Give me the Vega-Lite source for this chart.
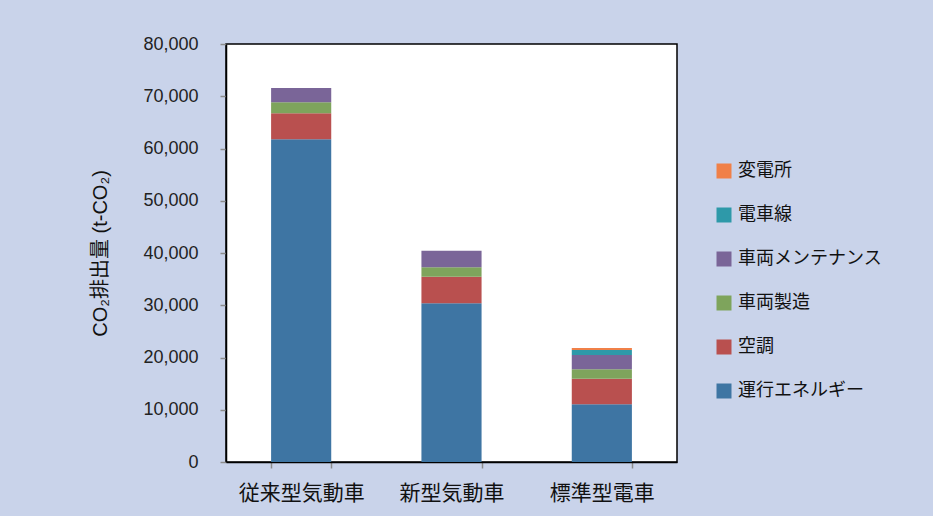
{
  "$schema": "https://vega.github.io/schema/vega-lite/v6.json",
  "autosize": {"type": "none"},
  "width": 451,
  "height": 418,
  "padding": {"left": 226, "top": 44, "right": 256, "bottom": 54},
  "background": "#c9d3ea",
  "config": {
    "font": "Liberation Sans, Noto Sans CJK JP",
    "view": {"fill": "white", "stroke": "black", "strokeWidth": 1.5}
  },
  "data": {
    "values": [
      {"車種": "従来型気動車", "項目": "運行エネルギー", "CO2": 61760},
      {"車種": "従来型気動車", "項目": "空調", "CO2": 4980},
      {"車種": "従来型気動車", "項目": "車両製造", "CO2": 2100},
      {"車種": "従来型気動車", "項目": "車両メンテナンス", "CO2": 2740},
      {"車種": "新型気動車", "項目": "運行エネルギー", "CO2": 30370},
      {"車種": "新型気動車", "項目": "空調", "CO2": 5100},
      {"車種": "新型気動車", "項目": "車両製造", "CO2": 1790},
      {"車種": "新型気動車", "項目": "車両メンテナンス", "CO2": 3180},
      {"車種": "標準型電車", "項目": "運行エネルギー", "CO2": 11040},
      {"車種": "標準型電車", "項目": "空調", "CO2": 4910},
      {"車種": "標準型電車", "項目": "車両製造", "CO2": 1790},
      {"車種": "標準型電車", "項目": "車両メンテナンス", "CO2": 2740},
      {"車種": "標準型電車", "項目": "電車線", "CO2": 960},
      {"車種": "標準型電車", "項目": "変電所", "CO2": 380}
    ]
  },
  "transform": [
    {"calculate": "indexof(['運行エネルギー','空調','車両製造','車両メンテナンス','電車線','変電所'], datum['項目'])", "as": "stackOrder"}
  ],
  "mark": {"type": "bar"},
  "encoding": {
    "x": {
      "field": "車種",
      "type": "nominal",
      "sort": ["従来型気動車", "新型気動車", "標準型電車"],
      "scale": {"paddingInner": 0.6, "paddingOuter": 0.3},
      "axis": {
        "title": null,
        "labelAngle": 0,
        "labelFontSize": 21,
        "labelColor": "#111",
        "labelPadding": 14,
        "tickBand": "extent",
        "tickColor": "#8c8c8c",
        "tickSize": 6,
        "tickWidth": 1.5,
        "domainColor": "black",
        "domainWidth": 1.5
      }
    },
    "y": {
      "field": "CO2",
      "type": "quantitative",
      "stack": "zero",
      "scale": {"domain": [0, 80000], "nice": false},
      "axis": {
        "title": "CO₂排出量 (t-CO₂)",
        "titleFontSize": 20,
        "titleFontWeight": "normal",
        "titleColor": "#111",
        "titlePadding": 32,
        "values": [0, 10000, 20000, 30000, 40000, 50000, 60000, 70000, 80000],
        "format": ",d",
        "labelFontSize": 18,
        "labelColor": "#222",
        "labelPadding": 22,
        "tickColor": "#8c8c8c",
        "tickSize": 6,
        "tickWidth": 1.5,
        "grid": false,
        "domainColor": "black",
        "domainWidth": 1.5
      }
    },
    "order": {"field": "stackOrder", "type": "quantitative", "sort": "ascending"},
    "color": {
      "field": "項目",
      "type": "nominal",
      "scale": {
        "domain": ["運行エネルギー", "空調", "車両製造", "車両メンテナンス", "電車線", "変電所"],
        "range": ["#3e75a3", "#b9504f", "#7ea45c", "#7a6598", "#2e99a9", "#f08048"]
      },
      "legend": {
        "title": null,
        "orient": "none",
        "legendX": 489,
        "legendY": 118,
        "values": ["変電所", "電車線", "車両メンテナンス", "車両製造", "空調", "運行エネルギー"],
        "symbolType": "square",
        "symbolSize": 225,
        "symbolStrokeWidth": 0,
        "labelFontSize": 18,
        "labelColor": "#111",
        "labelOffset": 5,
        "rowPadding": 26
      }
    }
  }
}
